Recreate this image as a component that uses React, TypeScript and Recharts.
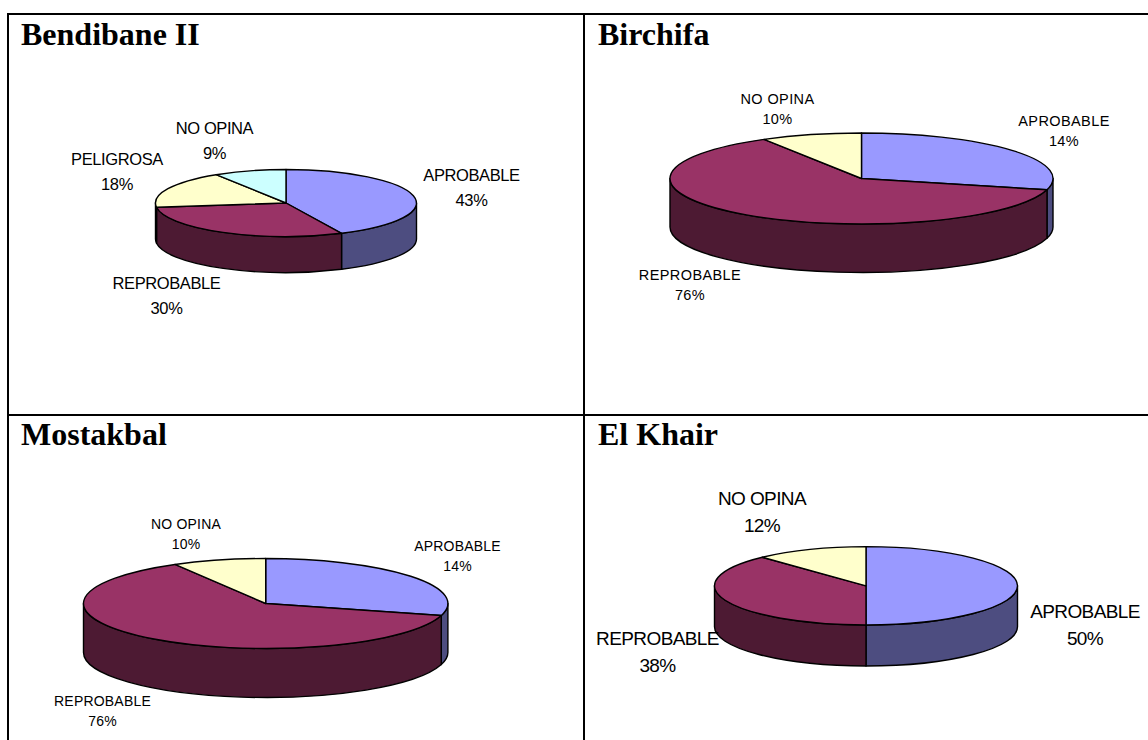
import { PieChart, Pie, Cell } from "recharts";

// Slice sizes are what the drawn wedges measure; the printed percentages are kept
// apart because on Birchifa and Mostakbal the two disagree in the source picture.
const categories3 = ["APROBABLE", "REPROBABLE", "NO OPINA"];
const categories4 = ["APROBABLE", "REPROBABLE", "PELIGROSA", "NO OPINA"];

const bendibaneValues = [43, 30, 18, 9];
const bendibanePrinted = ["43%", "30%", "18%", "9%"];
const birchifaValues = [29, 62.5, 8.5];
const birchifaPrinted = ["14%", "76%", "10%"];
const mostakbalValues = [29.3, 62.4, 8.3];
const mostakbalPrinted = ["14%", "76%", "10%"];
const khairValues = [50, 38, 12];
const khairPrinted = ["50%", "38%", "12%"];

const topColors3 = ["#9999FF", "#993366", "#FFFFCC"];
const wallColors3 = ["#4D4D80", "#4D1A33", "#808066"];
const topColors4 = ["#9999FF", "#993366", "#FFFFCC", "#CCFFFF"];
const wallColors4 = ["#4D4D80", "#4D1A33", "#808066", "#668080"];

const rad = (a: number) => (a * Math.PI) / 180;

const topSector = (ry: number) => (p: any) => {
  const pt = (a: number) => [p.cx + p.outerRadius * Math.cos(rad(a)), p.cy - ry * Math.sin(rad(a))];
  const [x0, y0] = pt(p.startAngle);
  const [x1, y1] = pt(p.endAngle);
  const large = p.startAngle - p.endAngle > 180 ? 1 : 0;
  const d = `M${p.cx} ${p.cy}L${x0} ${y0}A${p.outerRadius} ${ry} 0 ${large} 1 ${x1} ${y1}Z`;
  return <path d={d} fill={p.fill} stroke="#000" strokeWidth={1.4} strokeLinejoin="round" />;
};

// side wall: only the part of a slice on the front half of the ellipse is visible
const wallSector = (ry: number, depth: number) => (p: any) => {
  const from = Math.min(p.startAngle, 0);
  const to = Math.max(p.endAngle, -180);
  if (from <= to) return <g />;
  const pt = (a: number) => [p.cx + p.outerRadius * Math.cos(rad(a)), p.cy - ry * Math.sin(rad(a))];
  const [x0, y0] = pt(from);
  const [x1, y1] = pt(to);
  const r = `${p.outerRadius} ${ry}`;
  const d = `M${x0} ${y0}A${r} 0 0 1 ${x1} ${y1}L${x1} ${y1 + depth}A${r} 0 0 0 ${x0} ${y0 + depth}Z`;
  return <path d={d} fill={p.fill} stroke="#000" strokeWidth={1.4} strokeLinejoin="round" />;
};

type PanelProps = {
  title: string;
  names: string[];
  values: number[];
  printed: string[];
  tops: string[];
  walls: string[];
  box: number[];
  titleX: number;
  titleY: number;
  pie: number[];
  labelPos: number[][];
  font: number;
  spacing: number;
  lineGap: number;
};

const Panel = ({ title, names, values, printed, tops, walls, box, titleX, titleY, pie, labelPos, font, spacing, lineGap }: PanelProps) => {
  const [left, top, width, height] = box;
  const [cx, cy, rx, ry, depth] = pie;
  const rows = names.map((name, i) => ({ name, value: values[i] }));
  const renderLabel = (p: any) => {
    const [x, y] = labelPos[p.index];
    const style = { fontFamily: "'Liberation Sans', Arial, sans-serif", fontSize: font, letterSpacing: spacing };
    return (
      <g key={p.index}>
        <text x={x - left} y={y - top} textAnchor="middle" dominantBaseline="central" fill="#000" style={style}>
          {names[p.index]}
        </text>
        <text x={x - left} y={y - top + lineGap} textAnchor="middle" dominantBaseline="central" fill="#000" style={style}>
          {printed[p.index]}
        </text>
      </g>
    );
  };
  return (
    <div style={{ position: "absolute", left, top, width, height }}>
      <div
        style={{
          position: "absolute",
          left: titleX - left,
          top: titleY - top,
          fontFamily: "'Liberation Serif', 'Times New Roman', serif",
          fontWeight: "bold",
          fontSize: 32,
          lineHeight: "32px",
          color: "#000",
          whiteSpace: "nowrap",
          zIndex: 1,
        }}
      >
        {title}
      </div>
      <PieChart width={width} height={height} margin={{ top: 0, right: 0, bottom: 0, left: 0 }}>
        <Pie
          data={rows}
          dataKey="value"
          nameKey="name"
          cx={cx - left}
          cy={cy - top}
          outerRadius={rx}
          startAngle={90}
          endAngle={-270}
          isAnimationActive={false}
          shape={wallSector(ry, depth)}
        >
          {rows.map((_, i) => (
            <Cell key={i} fill={walls[i]} />
          ))}
        </Pie>
        <Pie
          data={rows}
          dataKey="value"
          nameKey="name"
          cx={cx - left}
          cy={cy - top}
          outerRadius={rx}
          startAngle={90}
          endAngle={-270}
          isAnimationActive={false}
          shape={topSector(ry)}
          label={renderLabel}
          labelLine={false}
        >
          {rows.map((_, i) => (
            <Cell key={i} fill={tops[i]} />
          ))}
        </Pie>
      </PieChart>
    </div>
  );
};

const line = (left: number, top: number, width: number, height: number) => (
  <div style={{ position: "absolute", left, top, width, height, background: "#000", zIndex: 2 }} />
);

const App = () => (
  <div style={{ position: "absolute", left: 0, top: 0, width: 1148, height: 740, overflow: "hidden", background: "#fff" }}>
    <Panel
      title="Bendibane II"
      names={categories4}
      values={bendibaneValues}
      printed={bendibanePrinted}
      tops={topColors4}
      walls={wallColors4}
      box={[9, 15, 575, 399]}
      titleX={21}
      titleY={18}
      pie={[286, 203, 130.5, 33.5, 36]}
      labelPos={[[471.5, 175], [166.5, 283], [117, 159], [214.5, 128]]}
      font={16.5}
      spacing={-0.4}
      lineGap={24.5}
    />
    <Panel
      title="Birchifa"
      names={categories3}
      values={birchifaValues}
      printed={birchifaPrinted}
      tops={topColors3}
      walls={wallColors3}
      box={[585, 15, 563, 399]}
      titleX={598}
      titleY={18}
      pie={[861.5, 178.5, 191.5, 45.5, 48.5]}
      labelPos={[[1064, 121], [690, 275], [777.5, 99]]}
      font={14.5}
      spacing={0.4}
      lineGap={20}
    />
    <Panel
      title="Mostakbal"
      names={categories3}
      values={mostakbalValues}
      printed={mostakbalPrinted}
      tops={topColors3}
      walls={wallColors3}
      box={[9, 416, 575, 324]}
      titleX={21}
      titleY={418}
      pie={[265.7, 603.5, 182.2, 45, 49]}
      labelPos={[[457.5, 546], [102.5, 701], [186, 524]]}
      font={14}
      spacing={0.2}
      lineGap={19.5}
    />
    <Panel
      title="El Khair"
      names={categories3}
      values={khairValues}
      printed={khairPrinted}
      tops={topColors3}
      walls={wallColors3}
      box={[585, 416, 563, 324]}
      titleX={598}
      titleY={418}
      pie={[866, 585.8, 151.5, 39.2, 41]}
      labelPos={[[1085, 611], [657.5, 638], [762, 498]]}
      font={19}
      spacing={-0.6}
      lineGap={27}
    />
    {line(7, 13, 1141, 2)}
    {line(7, 13, 2, 727)}
    {line(583, 13, 2, 727)}
    {line(7, 414, 1141, 2)}
  </div>
);

export default App;
